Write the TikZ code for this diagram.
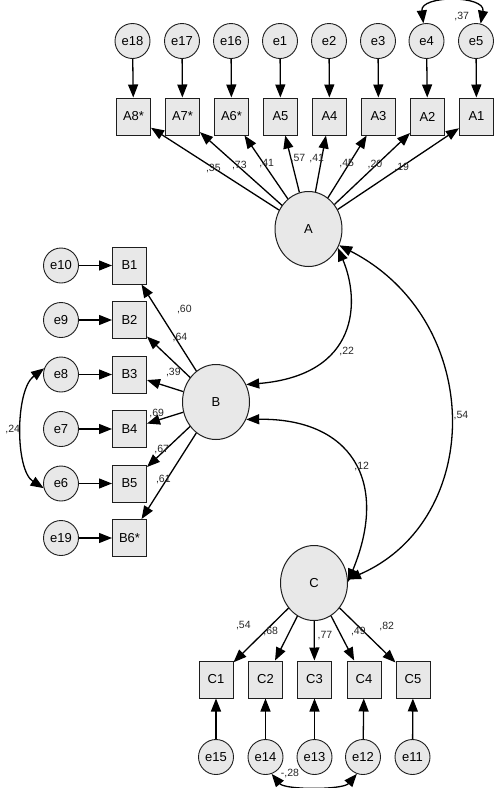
\documentclass[tikz,border=0pt]{standalone}
\usepackage{fontspec}
\setmainfont{Liberation Sans}
\usetikzlibrary{arrows.meta,shapes.geometric}
\definecolor{nodefill}{RGB}{232,232,232}
\definecolor{edge}{RGB}{30,30,30}
\tikzset{
  err/.style={circle, draw=edge, line width=0.9pt, fill=nodefill, minimum size=35pt, inner sep=0pt, font=\fontsize{13}{13}\selectfont},
  obs/.style={rectangle, draw=edge, line width=1pt, fill=nodefill, minimum width=34pt, minimum height=37pt, inner sep=0pt, font=\fontsize{13}{13}\selectfont},
  lat/.style={ellipse, draw=edge, line width=1pt, fill=nodefill, minimum width=67pt, minimum height=75pt, inner sep=0pt, font=\fontsize{13}{13}\selectfont},
  load/.style={-{Triangle[length=13pt,width=10pt]}, line width=1.3pt, draw=black},
  cov/.style={{Triangle[length=13pt,width=10pt]}-{Triangle[length=13pt,width=10pt]}, line width=1.3pt, draw=black},
  lbl/.style={font=\fontsize{10.5}{10.5}\selectfont, inner sep=0pt, text=black!85}
}
\begin{document}
\begin{tikzpicture}[x=1pt,y=-1pt]
\useasboundingbox (0,0) rectangle (500,788);

% latent
\node[lat] (A) at (308.5,229) {A};
\node[lat] (B) at (216,402) {B};
\node[lat] (C) at (314,583) {C};

% A block
\node[obs] (A8) at (133.5,116.5) {A8*};
\node[obs] (A7) at (182.5,116.5) {A7*};
\node[obs] (A6) at (231.5,116.5) {A6*};
\node[obs] (A5) at (280.5,116.5) {A5};
\node[obs] (A4) at (329.5,116.5) {A4};
\node[obs] (A3) at (378.5,116.5) {A3};
\node[obs] (A2) at (427.5,116.5) {A2};
\node[obs] (A1) at (476.5,116.5) {A1};
\node[err] (e18) at (132.5,41) {e18};
\node[err] (e17) at (182,41) {e17};
\node[err] (e16) at (231,41) {e16};
\node[err] (e1) at (280,41) {e1};
\node[err] (e2) at (329,41) {e2};
\node[err] (e3) at (378,41) {e3};
\node[err] (e4) at (426.5,41) {e4};
\node[err] (e5) at (476,41) {e5};
\foreach \e/\o in {e18/A8,e17/A7,e16/A6,e1/A5,e2/A4,e3/A3,e4/A2,e5/A1}
  \draw[load] (\e) -- (\o);
\foreach \o in {A8,A7,A6,A5,A4,A3,A2,A1}
  \draw[load] (A) -- (\o);
\draw[cov] (e4.100) .. controls (420,-5) and (486,-5) .. (e5.75);

% B block
\node[obs] (B1) at (129.5,265.5) {B1};
\node[obs] (B2) at (129.5,320) {B2};
\node[obs] (B3) at (129.5,374.5) {B3};
\node[obs] (B4) at (129.5,429) {B4};
\node[obs] (B5) at (129.5,483.5) {B5};
\node[obs] (B6) at (129.5,538) {B6*};
\node[err] (e10) at (61,265.5) {e10};
\node[err] (e9) at (61,320) {e9};
\node[err] (e8) at (61,374.5) {e8};
\node[err] (e7) at (61,429) {e7};
\node[err] (e6) at (61,483.5) {e6};
\node[err] (e19) at (61,538) {e19};
\foreach \e/\o in {e10/B1,e9/B2,e8/B3,e7/B4,e6/B5,e19/B6}
  \draw[load] (\e) -- (\o);
\foreach \o in {B1,B2,B3,B4,B5,B6}
  \draw[load] (B) -- (\o);
\draw[cov] (e8.160) .. controls (15,390) and (15,470) .. (e6.195);

% C block
\node[obs] (C1) at (216,679.5) {C1};
\node[obs] (C2) at (265.5,679.5) {C2};
\node[obs] (C3) at (314.5,679.5) {C3};
\node[obs] (C4) at (364,679.5) {C4};
\node[obs] (C5) at (413,679.5) {C5};
\node[err] (e15) at (216,757) {e15};
\node[err] (e14) at (265.5,757) {e14};
\node[err] (e13) at (314.5,757) {e13};
\node[err] (e12) at (363,757) {e12};
\node[err] (e11) at (412.5,757) {e11};
\foreach \e/\o in {e15/C1,e14/C2,e13/C3,e12/C4,e11/C5}
  \draw[load] (\e) -- (\o);
\foreach \o in {C1,C2,C3,C4,C5}
  \draw[load] (C) -- (\o);
\draw[cov] (e14.-70) .. controls (285,790) and (343,790) .. (e12.-110);

% latent covariances
\draw[cov] (A.-33) .. controls (360,300) and (360,375) .. (B.30);
\draw[cov] (B.-30) .. controls (350,418) and (390,480) .. (C.2);
\draw[cov] (A.-28) .. controls (485,320) and (485,520) .. (C.6);

% labels
\node[lbl] (l1) at (213.3,168.3) {,35};
\node[lbl] (l2) at (239.3,166) {,73};
\node[lbl] (l3) at (266.7,163.3) {,41};
\node[lbl] (l4) at (298,158.3) {,57};
\node[lbl] (l5) at (316.7,158.3) {,41};
\node[lbl] (l6) at (346.7,163.3) {,45};
\node[lbl] (l7) at (375,165) {,20};
\node[lbl] (l8) at (401.7,167.3) {,19};
\node[lbl] (l9) at (461.7,16.7) {,37};
\node[lbl] (l10) at (184.3,309.3) {,60};
\node[lbl] (l11) at (180,337.7) {,64};
\node[lbl] (l12) at (173.3,372.3) {,39};
\node[lbl] (l13) at (156.7,413.3) {,69};
\node[lbl] (l14) at (161.7,449) {,67};
\node[lbl] (l15) at (163.3,479) {,61};
\node[lbl] (l16) at (12.7,429.3) {,24};
\node[lbl] (l17) at (346.7,351.7) {,22};
\node[lbl] (l18) at (361.7,466.7) {,12};
\node[lbl] (l19) at (461,416) {,54};
\node[lbl] (l20) at (243.3,626) {,54};
\node[lbl] (l21) at (270.7,631) {,68};
\node[lbl] (l22) at (325,635.7) {,77};
\node[lbl] (l23) at (358.3,631.7) {,49};
\node[lbl] (l24) at (386.7,626.7) {,82};
\node[lbl] (l25) at (290,773.3) {-,28};
\end{tikzpicture}
\end{document}
